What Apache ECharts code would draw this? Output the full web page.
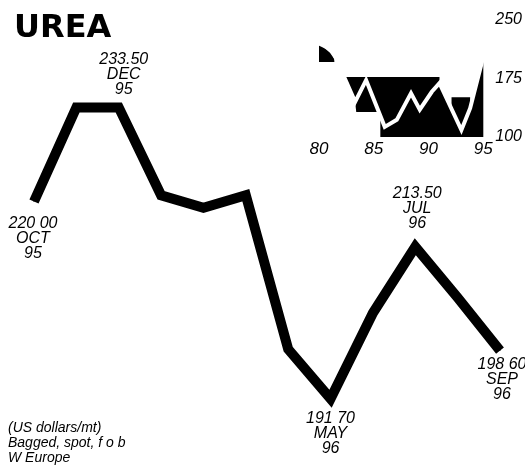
<!DOCTYPE html>
<html>
<head>
<meta charset="utf-8">
<script src="https://cdn.jsdelivr.net/npm/echarts/dist/echarts.min.js"></script>
<style>
    html, body { margin: 0; padding: 0; background: #fff; }
    #chart { width: 525px; height: 465px; }
</style>
</head>
<body>
<div id="chart"></div>
<script>
/*====================数据====================*/
// 主图: 月度价格 (US dollars/mt)
var months = ['OCT', 'NOV', 'DEC', 'JAN', 'FEB', 'MAR', 'APR', 'MAY', 'JUN', 'JUL', 'AUG', 'SEP'];
var years = ['95', '95', '95', '96', '96', '96', '96', '96', '96', '96', '96', '96'];
var prices = [220.0, 233.5, 233.5, 220.9, 219.1, 220.9, 198.8, 191.7, 204.0, 213.5, 206.2, 198.6];
var priceLabels = ['220 00', '', '233.50', '', '', '', '', '191 70', '', '213.50', '', '198 60'];

// 小图: 1980-95 长期走势
var insetYears = [80, 81.2, 82.3, 83.3, 84.3, 86.0, 87.1, 88.4, 89.2, 90.3, 91.0, 93.0, 93.8, 95.0];
var insetPrice = [220, 212, 177, 145, 173, 113, 122, 156, 135, 158, 169, 109, 137, 203];
// 小图黑色区块上沿, null = 断开
var bandYears = [80, 81.0, 81.4, 81.8, 82.3, 83.3, 83.4, 85.6, 91.0, 91.0, 92.1, 92.1, 93.8, 93.8, 95.0];
var bandTop = [220, 208, 200, null, 177, 177, 177, 177, 177, 169, 138, 151, 151, 137, 203];
// 小图黑色区块下沿 (以白色覆盖)
var bandBottomYears = [80, 81.5, 81.8, 82.2, 83.3, 83.4, 85.6, 85.6, 95.0];
var bandBottom = [196, 196, null, 177, 145, 132, 132, 100, 100];

var insetXTicks = [80, 85, 90, 95];
var insetYTicks = [100, 175, 250];

/*====================标注位置====================*/
var labelPlace = { // index: [position, distance, x offset]
    0: ['bottom', 14, -1],
    2: ['top', 10, 5],
    7: ['bottom', 12, 0],
    9: ['top', 15, 2],
    11: ['bottom', 6, 2]
};

var labelFont = '"Liberation Sans Narrow", "Liberation Sans", sans-serif';

function pairs(xs, ys) {
    var out = [];
    for (var i = 0; i < xs.length; i++) {
        out.push([xs[i], ys[i] == null ? '-' : ys[i]]);
    }
    return out;
}

var mainData = [];
for (var i = 0; i < prices.length; i++) {
    var item = { value: prices[i] };
    if (priceLabels[i]) {
        var p = labelPlace[i];
        item.label = {
            show: true,
            position: p[0],
            distance: p[1],
            offset: [p[2], 0],
            formatter: priceLabels[i] + '\n' + months[i] + '\n' + years[i]
        };
    }
    mainData.push(item);
}

/*====================echart====================*/
var myChart = echarts.init(document.getElementById('chart'), null, { renderer: 'canvas' });
var option = {
    animation: false,
    backgroundColor: '#fff',
    title: [{
        text: 'UREA',
        left: 9,
        top: 6,
        textStyle: {
            fontFamily: '"DejaVu Sans", sans-serif',
            fontWeight: 'bold',
            fontSize: 32,
            lineHeight: 36,
            color: '#000'
        }
    }, {
        text: '(US dollars/mt)\nBagged, spot, f o b\nW Europe',
        left: 6,
        top: 419,
        padding: 2,
        textStyle: {
            fontFamily: labelFont,
            fontStyle: 'italic',
            fontWeight: 'normal',
            fontSize: 14,
            lineHeight: 15,
            color: '#000'
        }
    }],
    grid: [{
        left: 34, right: 25, top: 97, bottom: 54.5
    }, {
        left: 319, right: 34, top: 20, bottom: 328
    }],
    xAxis: [{
        gridIndex: 0,
        type: 'category',
        data: months,
        boundaryGap: false,
        show: false
    }, {
        gridIndex: 1,
        type: 'value',
        min: insetXTicks[0],
        max: insetXTicks[insetXTicks.length - 1],
        interval: 5,
        axisLine: { show: false },
        axisTick: { show: false },
        splitLine: { show: false },
        axisLabel: {
            margin: 4,
            fontFamily: labelFont,
            fontStyle: 'italic',
            fontSize: 17,
            color: '#000'
        }
    }],
    yAxis: [{
        gridIndex: 0,
        type: 'value',
        min: 190,
        max: 235,
        show: false
    }, {
        gridIndex: 1,
        type: 'value',
        position: 'right',
        min: insetYTicks[0],
        max: insetYTicks[insetYTicks.length - 1],
        interval: 75,
        axisLine: { show: false },
        axisTick: { show: false },
        splitLine: { show: false },
        axisLabel: {
            margin: 12,
            fontFamily: '"Liberation Sans", sans-serif',
            fontStyle: 'italic',
            fontSize: 16,
            color: '#000'
        }
    }],
    series: [{
        name: 'price',
        type: 'line',
        xAxisIndex: 0,
        yAxisIndex: 0,
        data: mainData,
        symbol: 'circle',
        symbolSize: 1,
        itemStyle: { color: '#000' },
        lineStyle: { color: '#000', width: 10, cap: 'butt', join: 'miter', miterLimit: 10 },
        label: {
            color: '#000',
            fontFamily: labelFont,
            fontStyle: 'italic',
            fontSize: 16,
            lineHeight: 15,
            align: 'center'
        },
        z: 3
    }, {
        name: 'bandTop',
        type: 'line',
        xAxisIndex: 1,
        yAxisIndex: 1,
        data: pairs(bandYears, bandTop),
        showSymbol: false,
        connectNulls: false,
        lineStyle: { width: 0, opacity: 0 },
        areaStyle: { color: '#000', opacity: 1, origin: 'start' },
        z: 1
    }, {
        name: 'bandBottom',
        type: 'line',
        xAxisIndex: 1,
        yAxisIndex: 1,
        data: pairs(bandBottomYears, bandBottom),
        showSymbol: false,
        connectNulls: false,
        lineStyle: { width: 0, opacity: 0 },
        areaStyle: { color: '#fff', opacity: 1, origin: 'start' },
        z: 2
    }, {
        name: 'inset',
        type: 'line',
        xAxisIndex: 1,
        yAxisIndex: 1,
        data: pairs(insetYears, insetPrice),
        showSymbol: false,
        lineStyle: { color: '#fff', width: 4, join: 'miter' },
        z: 3
    }]
};
myChart.setOption(option);
</script>
</body>
</html>
